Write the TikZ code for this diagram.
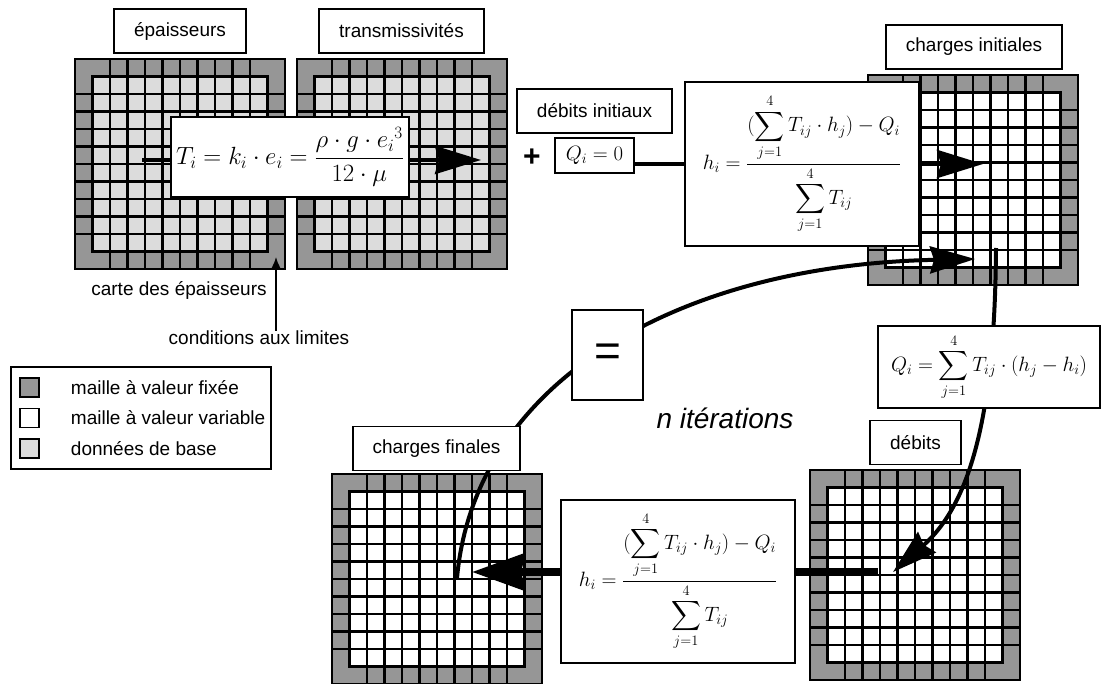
\documentclass[tikz,border=0pt]{standalone}
\usepackage{fontspec}
\setmainfont{Liberation Sans}
\usepackage{amsmath}
\usetikzlibrary{positioning,arrows.meta}
\definecolor{grisFixe}{RGB}{150,150,150}
\definecolor{grisBase}{RGB}{220,220,220}
\pgfdeclarelayer{grilles}
\pgfdeclarelayer{liens}
\pgfsetlayers{grilles,liens,main}

% grille 12x12 : #1 x, #2 y du coin haut gauche, #3 couleur des mailles internes
\newcommand{\grille}[3]{%
  \begin{pgfonlayer}{grilles}
  \begin{scope}[shift={(#1,#2)}]
    \fill[grisFixe] (0,0) rectangle (210,210);
    \fill[#3] (17.5,17.5) rectangle (192.5,192.5);
    \foreach \k in {2,...,10} {
      \draw[maille] (\k*17.5,0) -- (\k*17.5,210);
      \draw[maille] (0,\k*17.5) -- (210,\k*17.5);
    }
    \draw[maille] (17.5,17.5) rectangle (192.5,192.5);
    \draw[maille] (0,0) rectangle (210,210);
  \end{scope}
  \end{pgfonlayer}}

% formule des charges
\newcommand{\charges}{$h_i = \dfrac{\displaystyle(\sum_{j=1}^{4} T_{ij}\cdot h_j) - Q_i}%
  {\displaystyle\sum_{j=1}^{4} T_{ij}}$}

\begin{document}
\begin{tikzpicture}[x=1pt, y=-1pt,
  maille/.style={line width=2.2pt, black},
  etiquette/.style={draw, line width=1.5pt, fill=white, minimum height=44pt,
                    inner sep=0pt, font=\fontsize{19}{22}\selectfont},
  formule/.style={draw, line width=1.5pt, fill=white, inner sep=0pt,
                  font=\fontsize{24}{28}\selectfont},
  texte/.style={inner sep=0pt, font=\fontsize{19}{22}\selectfont},
  case/.style={draw, line width=1.5pt, minimum size=19pt, inner sep=0pt},
  lien/.style={line width=4pt},
  fleche/.style={line width=4pt, -{Stealth[length=46pt, width=28pt, inset=4pt]}},
  courbe/.style={line width=4pt, -{Stealth[length=45pt, width=27pt, inset=4pt]}},
  large/.style={line width=8pt},
  grosse fleche/.style={line width=8pt, -{Stealth[length=53pt, width=37pt, inset=4pt]}},
  mince/.style={line width=1.5pt, -{Latex[length=11pt, width=9pt]}}]
  \useasboundingbox (0,0) rectangle (1102,684);

  % grilles
  \grille{75}{59}{grisBase}
  \grille{297}{59}{grisBase}
  \grille{868}{75}{white}
  \grille{810}{470}{white}
  \grille{332}{474}{white}

  % titres des cartes
  \node[etiquette, minimum width=132pt] (epais) at (180,31) {épaisseurs};
  \node[etiquette, minimum width=165pt] (trans) at (401.5,31) {transmissivités};
  \node[etiquette, minimum width=155pt] (debinit) at (594.5,111) {débits initiaux};
  \node[etiquette, minimum width=176pt] (chinit) at (974,47) {charges initiales};
  \node[etiquette, minimum width=91pt] (debits) at (915.5,442.5) {débits};
  \node[etiquette, minimum width=167pt] (chfin) at (436.5,448.5) {charges finales};

  % formules
  \node[formule, minimum width=238pt, minimum height=80pt, font=\fontsize{25}{28}\selectfont]
    (transm) at (290,157)
    {$T_i = k_i\cdot e_i = \dfrac{\rho\cdot g\cdot e_i{}^3}{12\cdot\mu}$};
  \node[formule, minimum width=79pt, minimum height=35pt, font=\fontsize{21}{24}\selectfont]
    (qnul) at (594.5,155.5) {$Q_i = 0$};
  \node[formule, minimum width=234pt, minimum height=164pt, font=\fontsize{22}{26}\selectfont]
    (hhaut) at (802,164) {\charges};
  \node[formule, minimum width=222pt, minimum height=82pt, font=\fontsize{22}{26}\selectfont]
    (qcalc) at (989,367)
    {$\displaystyle Q_i = \sum_{j=1}^{4} T_{ij}\cdot(h_j - h_i)$};
  \node[formule, minimum width=234pt, minimum height=163pt, font=\fontsize{22}{26}\selectfont]
    (hbas) at (678,581.5) {\charges};
  \node[formule, minimum width=71pt, minimum height=90pt, font=\fontsize{46}{50}\selectfont]
    (egal) at (607.5,355) {=};

  \node[font=\fontsize{30}{32}\selectfont\bfseries] (plus) at (532,158) {+};
  \node[font=\fontsize{28}{32}\selectfont\itshape] (iter) at (725,418) {n itérations};
  \node[texte] (carte) at (179,290) {carte des épaisseurs};
  \node[texte] (limites) at (259,338) {conditions aux limites};

  % légende
  \node[draw, line width=1.5pt, minimum width=260pt, minimum height=102pt] (legende) at (141,418) {};
  \node[case, fill=grisFixe] (c1) at (29.5,387.5) {};
  \node[case, fill=white, below=10pt of c1] (c2) {};
  \node[case, fill=grisBase, below=10pt of c2] (c3) {};
  \node[texte, right=31pt of c1] (l1) {maille à valeur fixée};
  \node[texte, right=31pt of c2] (l2) {maille à valeur variable};
  \node[texte, right=31pt of c3] (l3) {données de base};

  % liaisons
  \coordinate (dT) at (142,160);
  \coordinate (fT) at (481,160);
  \coordinate (fH) at (983,164);
  \coordinate (dC) at (457,578);
  \coordinate (fC) at (975,259);
  \coordinate (dV) at (996,248);
  \coordinate (fV) at (893,572);
  \coordinate (dB) at (878,572);
  \coordinate (fB) at (472,572);
  \coordinate (bord) at (276,257);

  \begin{pgfonlayer}{liens}
    \draw[fleche] (dT) -- (transm.west |- dT) (transm.east |- dT) -- (fT);
    \draw[lien] (qnul.east |- hhaut.west) -- (hhaut.west);
    \draw[fleche] (hhaut.east) -- (fH);
    \draw[courbe] (dC) .. controls (475,380) and (680,265) .. (fC);
    \draw[courbe] (dV) .. controls (995,400) and (975,500) .. (fV);
    \draw[large] (dB) -- (dB -| hbas.east);
    \draw[grosse fleche] (hbas.west |- fB) -- (fB);
    \draw[mince] (limites.north -| bord) -- (bord);
  \end{pgfonlayer}
\end{tikzpicture}
\end{document}
